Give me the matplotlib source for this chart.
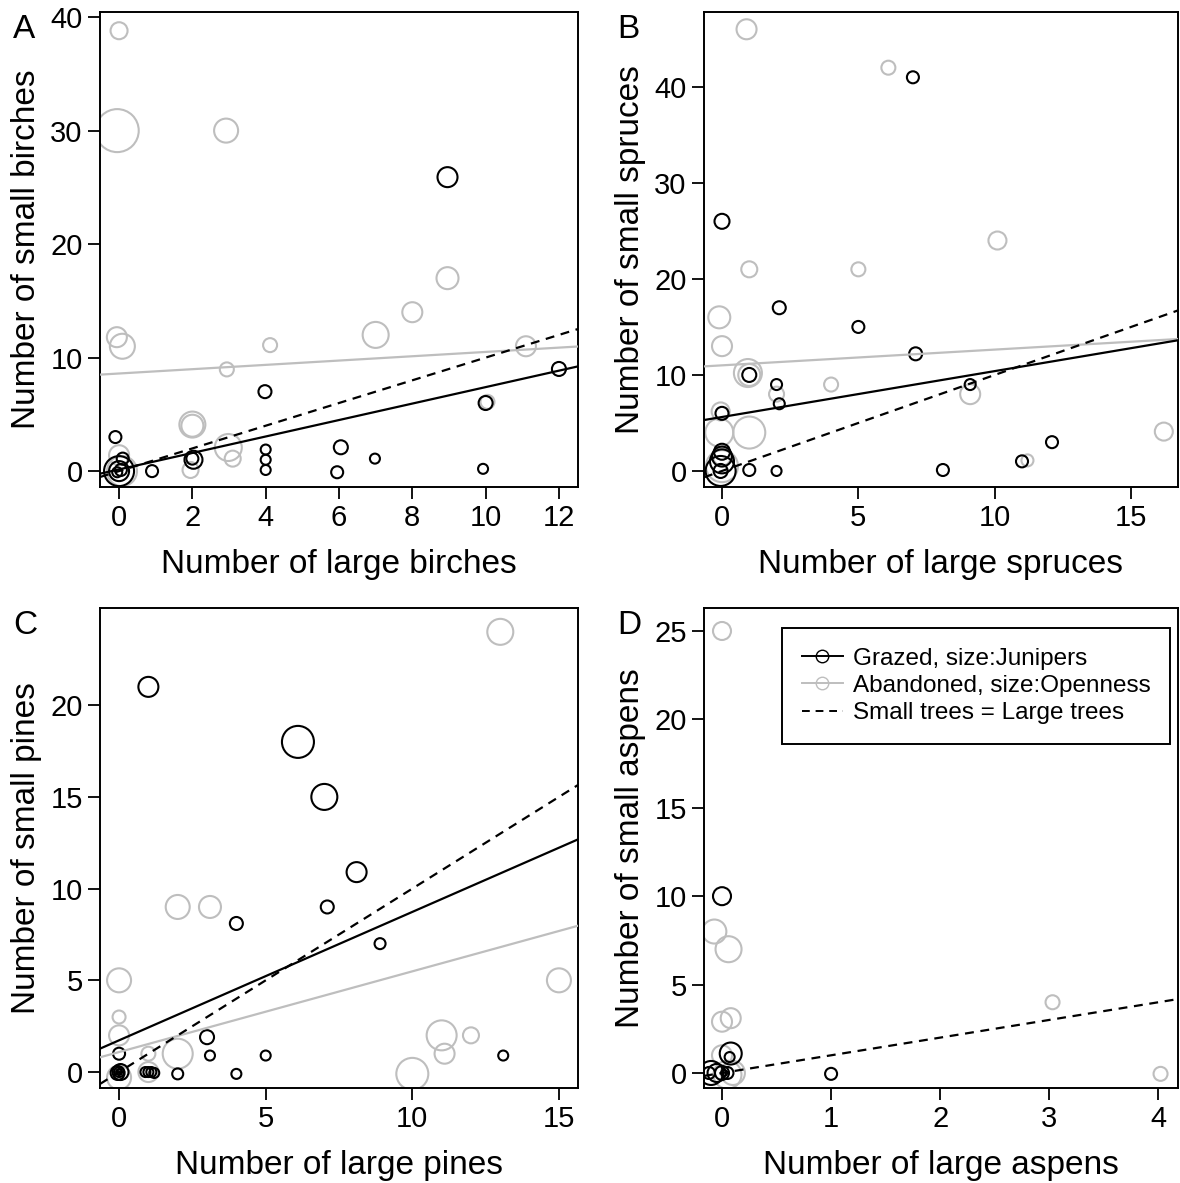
import numpy as np
import matplotlib.pyplot as plt
from matplotlib.lines import Line2D

plt.rcParams['font.family'] = ['Liberation Sans', 'DejaVu Sans']

# ---- data (x = large trees, y = small trees, c = circle size index) ----
# A: birches
a_gr_x = [0.0, -0.05, 2.92, 8.96, 8.0, 7.0, -0.06, 0.09, 4.12, 11.1, 2.94, 2.0, 2.0, 2.98, 3.1, 1.95, 0.0, 0.08, 10.05]
a_gr_y = [38.8, 30.0, 30.0, 17.0, 14.0, 12.0, 11.8, 11.0, 11.1, 11.0, 8.96, 4.1, 4.0, 2.08, 1.1, 0.1, 1.4, 0.0, 6.1]
a_gr_c = [1.7, 4.3, 2.4, 2.2, 2.0, 2.6, 2.0, 2.5, 1.4, 2.0, 1.4, 2.6, 2.2, 2.7, 1.6, 1.6, 2.0, 3.0, 1.4]
a_bk_x = [8.96, 3.98, 12.0, 10.0, -0.1, 4.0, 4.0, 4.0, 0.9, 2.0, 2.03, 0.1, 0.0, 0.0, 0.05, -0.05, 6.05, 5.95, 6.98, 9.93]
a_bk_y = [25.9, 7.0, 9.0, 6.0, 3.0, 1.9, 1.0, 0.1, 0.0, 1.1, 1.0, 1.1, 0.0, 0.0, 0.1, -0.1, 2.1, -0.1, 1.1, 0.2]
a_bk_c = [2.0, 1.3, 1.4, 1.4, 1.2, 1.0, 1.0, 1.0, 1.2, 1.2, 1.8, 1.2, 3.0, 2.0, 1.2, 1.0, 1.4, 1.2, 1.0, 1.0]

# B: spruces
b_gr_x = [0.9, 6.1, 10.1, 1.0, 5.0, -0.1, 0.0, 0.95, 1.0, 4.0, 2.0, 9.1, -0.05, -0.1, 1.0, 11.2, 16.2, 0.0, 0.0]
b_gr_y = [46.0, 42.0, 24.0, 21.0, 21.0, 16.0, 13.0, 10.2, 10.0, 9.0, 8.0, 8.0, 6.2, 4.0, 4.0, 1.1, 4.1, 0.5, 1.5]
b_gr_c = [2.0, 1.4, 1.8, 1.6, 1.4, 2.2, 2.0, 2.8, 2.2, 1.4, 1.5, 2.0, 1.8, 2.8, 3.2, 1.2, 1.8, 3.2, 1.8]
b_bk_x = [7.0, 0.0, 2.1, 5.0, 7.1, 1.0, 2.0, 2.1, 9.1, 0.0, 0.0, 0.0, 0.0, -0.05, -0.05, 1.0, 2.0, 8.1, 11.0, 12.1]
b_bk_y = [41.0, 26.0, 17.0, 15.0, 12.2, 10.0, 9.0, 7.0, 9.0, 6.0, 2.0, 1.5, 1.0, 0.0, 0.0, 0.1, 0.0, 0.1, 1.0, 3.0]
b_bk_c = [1.2, 1.5, 1.3, 1.2, 1.3, 1.4, 1.1, 1.1, 1.1, 1.3, 1.6, 2.0, 2.4, 1.4, 3.0, 1.2, 1.0, 1.2, 1.2, 1.2]

# C: pines
c_gr_x = [13.0, 2.0, 3.1, 0.0, 0.0, 0.0, 1.0, 2.0, 15.0, 11.0, 12.0, 11.1, 10.0, 0.0, 1.0]
c_gr_y = [24.0, 9.0, 9.0, 5.0, 3.0, 2.0, 1.0, 1.0, 5.0, 2.0, 2.0, 1.0, -0.1, -0.3, 0.0]
c_gr_c = [2.6, 2.4, 2.2, 2.4, 1.3, 2.0, 1.4, 3.0, 2.4, 3.0, 1.6, 2.0, 3.2, 2.4, 2.0]
c_bk_x = [1.0, 6.1, 7.0, 8.1, 7.1, 4.0, 8.9, 0.0, 3.0, 3.1, 2.0, 4.0, 5.0, 13.1, 0.0, 0.0, 0.05, -0.05, 0.02, 0.9, 1.0, 1.1, 1.2]
c_bk_y = [21.0, 18.0, 15.0, 10.9, 9.0, 8.1, 7.0, 1.0, 1.9, 0.9, -0.1, -0.1, 0.9, 0.9, 0.0, 0.0, 0.0, -0.05, 0.05, 0.0, 0.0, 0.0, -0.05]
c_bk_c = [2.0, 3.2, 2.6, 2.0, 1.3, 1.3, 1.1, 1.2, 1.4, 1.0, 1.1, 1.0, 1.0, 1.0, 1.0, 0.6, 1.6, 1.4, 0.4, 1.0, 1.0, 1.0, 1.0]

# D: aspens
d_gr_x = [0.0, -0.07, 0.06, 0.0, 0.08, 0.0, 0.1, 0.05, 3.03, 4.02]
d_gr_y = [25.0, 8.0, 7.0, 2.9, 3.1, 1.0, 0.0, -0.1, 4.0, -0.05]
d_gr_c = [1.8, 2.4, 2.6, 2.0, 2.0, 2.0, 2.4, 2.8, 1.4, 1.4]
d_bk_x = [0.0, 0.08, 0.07, -0.1, -0.05, 0.0, -0.12, 0.05, 0.02, 1.0]
d_bk_y = [10.0, 1.1, 0.9, 0.0, 0.0, 0.0, 0.0, 0.0, 0.0, -0.05]
d_bk_c = [1.8, 2.2, 1.0, 2.4, 1.8, 1.4, 1.2, 1.2, 0.6, 1.2]

# fitted lines (intercept, slope); None = not drawn
fit_grazed = [(0.15, 0.725), (5.62, 0.478), (1.73, 0.70), None]
fit_abandoned = [(8.6, 0.19), (11.0, 0.164), (1.09, 0.44), None]

letters = ['A', 'B', 'C', 'D']
xlabels = ['Number of large birches', 'Number of large spruces', 'Number of large pines', 'Number of large aspens']
ylabels = ['Number of small birches', 'Number of small spruces', 'Number of small pines', 'Number of small aspens']
xticks = [[0, 2, 4, 6, 8, 10, 12], [0, 5, 10, 15], [0, 5, 10, 15], [0, 1, 2, 3, 4]]
yticks = [[0, 10, 20, 30, 40], [0, 10, 20, 30, 40], [0, 5, 10, 15, 20], [0, 5, 10, 15, 20, 25]]
xlims = [(-0.52, 12.52), (-0.66, 16.72), (-0.65, 15.65), (-0.165, 4.18)]
ylims = [(-1.4, 40.45), (-1.67, 47.8), (-0.87, 25.3), (-0.85, 26.3)]

grazed = [(a_bk_x, a_bk_y, a_bk_c), (b_bk_x, b_bk_y, b_bk_c), (c_bk_x, c_bk_y, c_bk_c), (d_bk_x, d_bk_y, d_bk_c)]
abandoned = [(a_gr_x, a_gr_y, a_gr_c), (b_gr_x, b_gr_y, b_gr_c), (c_gr_x, c_gr_y, c_gr_c), (d_gr_x, d_gr_y, d_gr_c)]

GREY = '#bebebe'
W, H = 1180, 1183
fig = plt.figure(figsize=(W / 100, H / 100), dpi=100)
boxes = [(100, 12, 478, 475), (704, 12, 474, 475), (100, 608, 478, 480), (704, 608, 474, 480)]

for i in range(4):
    l, t, w, h = boxes[i]
    ax = fig.add_axes([l / W, 1 - (t + h) / H, w / W, h / H])
    gx, gy, gc = abandoned[i]
    ax.scatter(gx, gy, s=(7.2 * np.array(gc)) ** 2, facecolors='none', edgecolors=GREY, linewidths=1.5, zorder=2)
    bx, by, bc = grazed[i]
    ax.scatter(bx, by, s=(7.2 * np.array(bc)) ** 2, facecolors='none', edgecolors='black', linewidths=1.5, zorder=3)
    if fit_abandoned[i] is not None:
        ax.axline((0, fit_abandoned[i][0]), slope=fit_abandoned[i][1], color=GREY, lw=1.6, zorder=4)
    if fit_grazed[i] is not None:
        ax.axline((0, fit_grazed[i][0]), slope=fit_grazed[i][1], color='black', lw=1.6, zorder=4)
    ax.axline((0, 0), slope=1, color='black', lw=1.6, linestyle=(0, (4, 3)), zorder=4)

    ax.set_xlim(xlims[i])
    ax.set_ylim(ylims[i])
    ax.set_xticks(xticks[i])
    ax.set_yticks(yticks[i])
    ax.tick_params(direction='out', length=8.5, width=1.3, labelsize=21, pad=4)
    for sp in ax.spines.values():
        sp.set_linewidth(1.4)
    ax.set_xlabel(xlabels[i], fontsize=24, labelpad=12)
    ax.set_ylabel(ylabels[i], fontsize=24, labelpad=6)
    fig.text((l - 87) / W, 1 - (t + 18) / H, letters[i], fontsize=24, ha='left', va='center')

    if i == 3:
        handles = [
            Line2D([], [], color='black', lw=1.4, marker='o', markerfacecolor='none', markersize=9),
            Line2D([], [], color=GREY, lw=1.4, marker='o', markerfacecolor='none', markersize=9),
            Line2D([], [], color='black', lw=1.4, linestyle=(0, (4, 3))),
        ]
        leg = ax.legend(handles, ['Grazed, size:Junipers', 'Abandoned, size:Openness', 'Small trees = Large trees'],
                        loc='upper right', bbox_to_anchor=(0.983, 0.958), borderaxespad=0, fontsize=17.5,
                        fancybox=False, edgecolor='black', framealpha=1, handlelength=1.7,
                        handletextpad=0.4, labelspacing=0.22, borderpad=0.8)
        leg.get_frame().set_linewidth(1.4)

fig.savefig('out.png', dpi=100)
